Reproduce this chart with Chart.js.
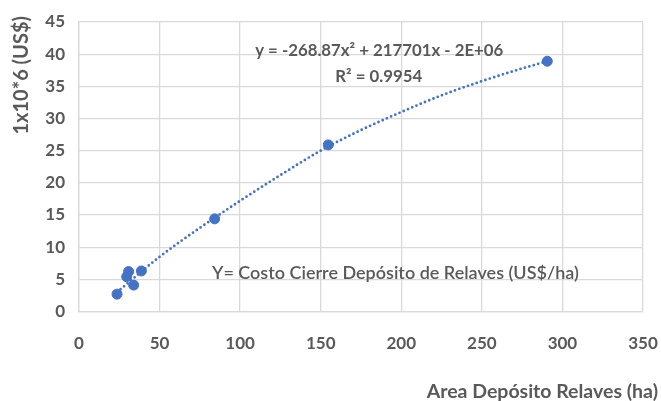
<!DOCTYPE html>
<html>
<head>
<meta charset="utf-8">
<script src="https://cdn.jsdelivr.net/npm/chart.js@4/dist/chart.umd.min.js"></script>
<style>
html,body{margin:0;padding:0;background:#fff;}
#wrap{width:661px;height:401px;position:relative;}
</style>
</head>
<body>
<div id="wrap"><canvas id="c" width="661" height="401"></canvas></div>
<script>
// Data
const areaHa   = [23.6, 29.6, 30.8, 33.9, 38.7, 84.2, 154.7, 290.6];
const costMUSD = [2.7, 5.4, 6.2, 4.1, 6.3, 14.4, 25.9, 38.9];
// Dotted trend line
const trendX = [23.6, 50, 75, 100, 125, 150, 175, 200, 225, 250, 270, 290.6];
const trendY = [3.0, 8.5, 13.0, 17.2, 21.2, 25.0, 28.2, 31.0, 33.6, 35.8, 37.4, 38.9];
const xTicks = [0, 50, 100, 150, 200, 250, 300, 350];
const yTicks = [0, 5, 10, 15, 20, 25, 30, 35, 40, 45];
const equationText = 'y = -268.87x² + 217701x - 2E+06';
const r2Text = 'R² = 0.9954';
const noteText = 'Y= Costo Cierre Depósito de Relaves (US$/ha)';
const xTitle = 'Area Depósito Relaves (ha)';
const yTitle = '1x10*6 (US$)';

const FONT = 'Lato, "Open Sans", sans-serif';
const GREY = '#595959';
const BLUE = '#4472C4';

const annot = {
  id: 'annot',
  afterDraw(chart) {
    const ctx = chart.ctx;
    const xs = chart.scales.x, ys = chart.scales.y;
    ctx.save();
    ctx.fillStyle = GREY;
    ctx.textBaseline = 'middle';
    ctx.font = 'bold 16.8px ' + FONT;
    ctx.textAlign = 'center';
    ctx.fillText(equationText, xs.getPixelForValue(186.3), ys.getPixelForValue(40.6));
    ctx.fillText(r2Text, xs.getPixelForValue(186.0), ys.getPixelForValue(36.5));
    ctx.font = '600 18px ' + FONT;
    ctx.textAlign = 'left';
    ctx.fillText(noteText, xs.getPixelForValue(82.5), ys.getPixelForValue(6.0));
    // axis titles
    ctx.font = 'bold 19.5px ' + FONT;
    ctx.textAlign = 'right';
    ctx.fillText(xTitle, chart.width - 3, 392);
    ctx.translate(22, ys.top - 6);
    ctx.rotate(-Math.PI / 2);
    ctx.font = 'bold 20px ' + FONT;
    ctx.textAlign = 'right';
    ctx.fillText(yTitle, 0, 0);
    ctx.restore();
  }
};

new Chart(document.getElementById('c'), {
  type: 'scatter',
  data: {
    datasets: [
      {
        label: 'trend',
        data: trendX.map((x, i) => ({x: x, y: trendY[i]})),
        showLine: true,
        borderColor: BLUE,
        borderWidth: 2.8,
        borderDash: [0, 4.6],
        borderCapStyle: 'round',
        pointRadius: 0,
        cubicInterpolationMode: 'monotone',
        fill: false,
        order: 2
      },
      {
        label: 'Costo',
        data: areaHa.map((x, i) => ({x: x, y: costMUSD[i]})),
        backgroundColor: BLUE,
        borderColor: BLUE,
        pointRadius: 5,
        pointHoverRadius: 5,
        order: 1
      }
    ]
  },
  options: {
    responsive: false,
    animation: false,
    events: [],
    layout: { padding: { top: 22, right: 18, left: 0, bottom: 0 } },
    plugins: { legend: { display: false }, tooltip: { enabled: false } },
    scales: {
      x: {
        type: 'linear',
        min: 0, max: 350,
        afterBuildTicks: s => { s.ticks = xTicks.map(v => ({value: v})); },
        afterFit: s => { s.height = 89.5; s.paddingRight = 0; s.paddingLeft = 0; },
        grid: { color: '#d9d9d9', lineWidth: 1.3, drawTicks: false },
        border: { color: '#d9d9d9', width: 1.3 },
        ticks: { color: GREY, padding: 22, font: { family: FONT, size: 17, weight: 'bold' }, maxRotation: 0 }
      },
      y: {
        type: 'linear',
        min: 0, max: 45,
        afterBuildTicks: s => { s.ticks = yTicks.map(v => ({value: v})); },
        afterFit: s => { s.width = 79; s.paddingTop = 0; s.paddingBottom = 0; },
        grid: { color: '#d9d9d9', lineWidth: 1.3, drawTicks: false },
        border: { color: '#d9d9d9', width: 1.3 },
        ticks: { color: GREY, padding: 14, font: { family: FONT, size: 17, weight: 'bold' } }
      }
    }
  },
  plugins: [annot]
});
</script>
</body>
</html>
